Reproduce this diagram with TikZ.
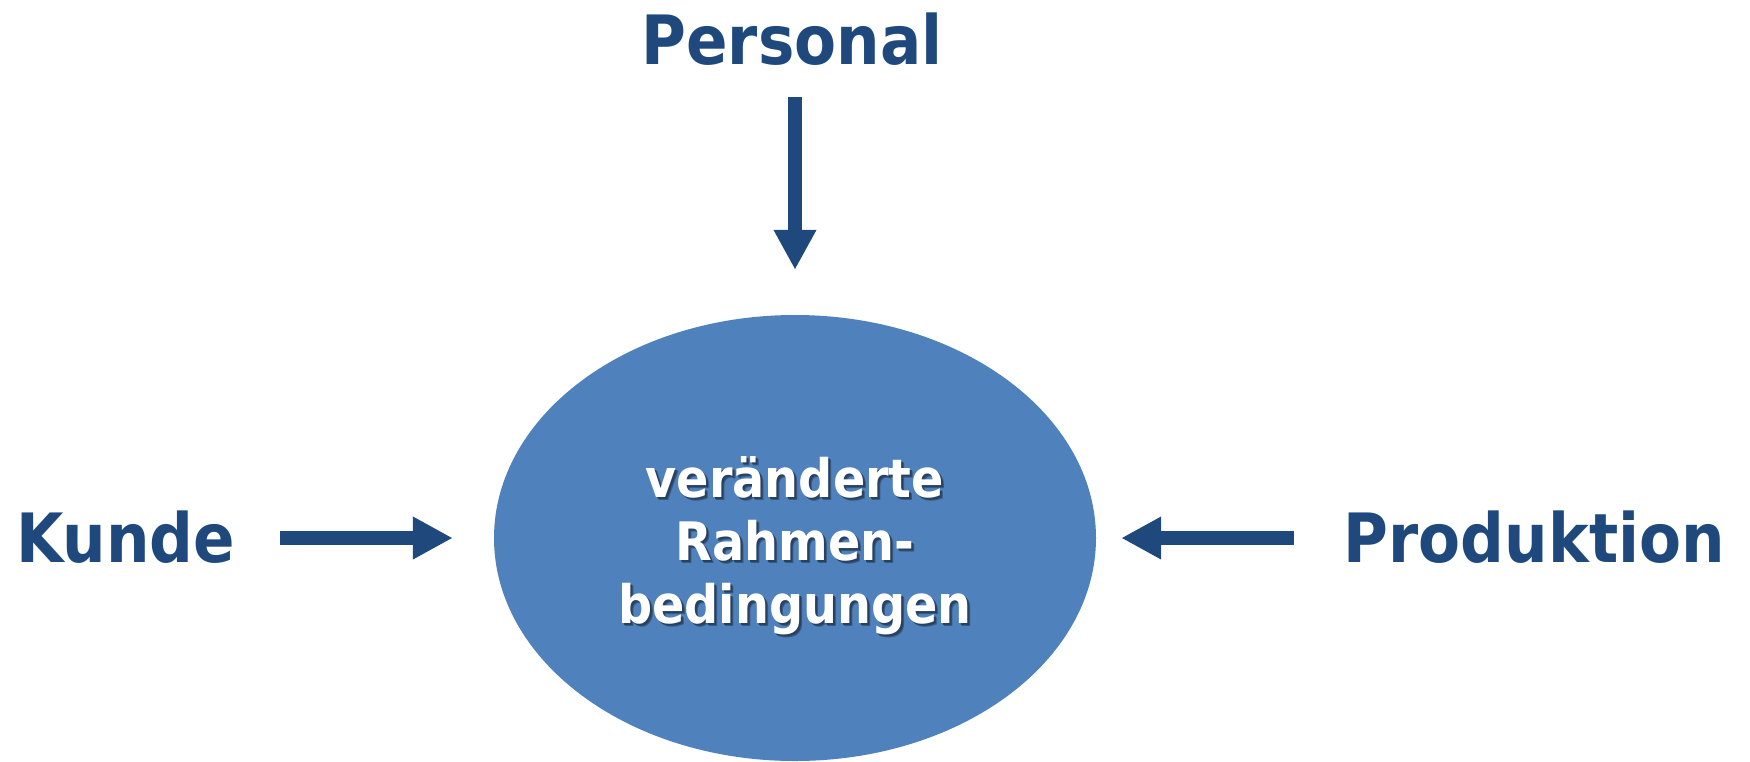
\documentclass[tikz,border=0pt]{standalone}
\usepackage{fontspec}
\setmainfont{DejaVu Sans Condensed}
\usetikzlibrary{arrows.meta,shapes.geometric}
\definecolor{navy}{HTML}{1F497D}
\definecolor{ellblue}{HTML}{4F81BD}
\colorlet{shadeA}{ellblue!70!black}
\colorlet{shadeB}{ellblue!50!black}
\newcommand\shadowtext[1]{\rlap{\kern3pt\raisebox{-3pt}{\textcolor{shadeA}{#1}}}\rlap{\kern2pt\raisebox{-2pt}{\textcolor{shadeB}{#1}}}#1}
\tikzset{
  outer/.style={inner sep=0pt, text=navy, font=\bfseries\fontsize{68}{80}\selectfont},
  inner/.style={inner sep=0pt, text=white, font=\bfseries\fontsize{53}{63}\selectfont},
  arr/.style={draw=navy, line width=13.5pt, -{Triangle[length=40pt,width=40pt]}},
}
\begin{document}
\begin{tikzpicture}[x=1pt,y=-1pt]
\useasboundingbox (0,0) rectangle (1750,761);
\node[ellipse, fill=ellblue, minimum width=602pt, minimum height=446pt, inner sep=0pt] (ell) at (795,538) {};
\node[outer, anchor=base] (personal) at (792,64) {Personal};
\node[outer, anchor=base west] (kunde) at (16,562) {Kunde};
\node[outer, anchor=base east] (produktion) at (1725,562) {Produktion};
\node[inner, anchor=base] (l1) at (795,497) {\shadowtext{veränderte}};
\node[inner, anchor=base] (l2) at (795,560) {\shadowtext{Rahmen-}};
\node[inner, anchor=base] (l3) at (795,623) {\shadowtext{bedingungen}};
\draw[arr] ([yshift=-32pt]ell.north |- personal.south) -- ([yshift=45pt]ell.north);
\draw[arr] ([xshift=45pt]kunde.east |- ell.west) -- ([xshift=-41pt]ell.west);
\draw[arr] ([xshift=-50pt]produktion.west |- ell.east) -- ([xshift=25pt]ell.east);
\end{tikzpicture}
\end{document}
